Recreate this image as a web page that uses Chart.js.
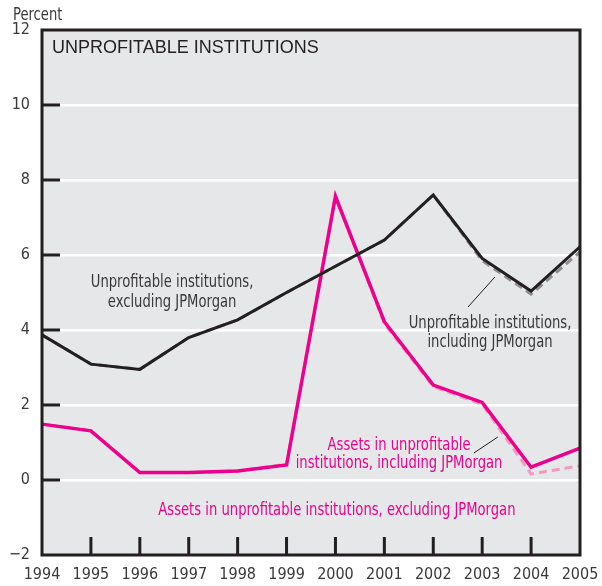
<!DOCTYPE html>
<html>
<head>
<meta charset="utf-8">
<script src="https://cdn.jsdelivr.net/npm/chart.js@4/dist/chart.umd.min.js"></script>
<style>
  html, body { margin: 0; padding: 0; background: #ffffff; }
  #wrap { width: 602px; height: 586px; }
</style>
</head>
<body>
<div id="wrap"><canvas id="chart" width="602" height="586"></canvas></div>
<script>
// Years on the horizontal axis
const years = ['1994','1995','1996','1997','1998','1999','2000','2001','2002','2003','2004','2005'];

// Percent of institutions that were unprofitable
const unprofitableExcl = [3.87, 3.09, 2.95, 3.80, 4.27, 5.00, 5.70, 6.40, 7.60, 5.91, 5.04, 6.22];
const unprofitableIncl = [3.87, 3.09, 2.95, 3.80, 4.27, 5.00, 5.70, 6.40, 7.60, 5.85, 4.96, 6.08];

// Percent of assets held by unprofitable institutions
const assetsExcl = [1.49, 1.31, 0.20, 0.20, 0.24, 0.40, 7.56, 4.22, 2.53, 2.07, 0.34, 0.85];
const assetsIncl = [1.49, 1.31, 0.20, 0.20, 0.24, 0.42, 7.60, 4.16, 2.49, 2.02, 0.16, 0.38];

// Vertical axis ticks
const yTicks = [-2, 0, 2, 4, 6, 8, 10, 12];

const NARROW = '"Liberation Sans Narrow", "DejaVu Sans Condensed", "Arial Narrow", sans-serif';
const REGULAR = '"Liberation Sans", Arial, Helvetica, sans-serif';
const INK = '#231f20';
const MAGENTA = '#ec008c';
const LABEL_GRAY = '#3a3839';
const SQUEEZE = 0.86;   // condensed look for the in-plot labels

// draw text compressed horizontally around its anchor
function narrowText(ctx, txt, x, y) {
  ctx.save();
  ctx.translate(x, y);
  ctx.scale(SQUEEZE, 1);
  ctx.fillText(txt, 0, 0);
  ctx.restore();
}

// Background, frame, inner ticks and text labels
const decor = {
  id: 'decor',
  beforeDraw(chart) {
    const { ctx, chartArea: a } = chart;
    ctx.save();
    ctx.fillStyle = '#e6e7e8';
    ctx.fillRect(a.left, a.top, a.right - a.left, a.bottom - a.top);
    ctx.restore();
  },
  afterDraw(chart) {
    const { ctx, chartArea: a, scales } = chart;
    const x = scales.x, y = scales.y;
    const X = v => x.getPixelForValue(v - 1994);
    const Y = v => y.getPixelForValue(v);
    ctx.save();

    // inner tick marks
    ctx.strokeStyle = INK;
    ctx.lineWidth = 3;
    ctx.beginPath();
    yTicks.slice(1, -1).forEach(t => {
      const py = Y(t);
      ctx.moveTo(a.left, py);
      ctx.lineTo(a.left + 18, py);
    });
    years.slice(1, -1).forEach((_, i) => {
      const px = x.getPixelForValue(i + 1);
      ctx.moveTo(px, a.bottom);
      ctx.lineTo(px, a.bottom - 18);
    });
    ctx.stroke();

    // frame
    ctx.strokeRect(a.left, a.top, a.right - a.left, a.bottom - a.top);

    // axis unit
    ctx.fillStyle = LABEL_GRAY;
    ctx.font = '17px ' + NARROW;
    ctx.textAlign = 'left';
    ctx.textBaseline = 'alphabetic';
    narrowText(ctx, 'Percent', a.left - 29, a.top - 10);

    // panel heading
    ctx.fillStyle = INK;
    ctx.font = '18px ' + REGULAR;
    ctx.fillText('UNPROFITABLE INSTITUTIONS', a.left + 10, a.top + 23);

    // series labels
    ctx.font = '17px ' + NARROW;
    ctx.textAlign = 'center';
    ctx.fillStyle = LABEL_GRAY;
    let px = X(1996.66), py = Y(5.147);
    narrowText(ctx, 'Unprofitable institutions,', px, py);
    narrowText(ctx, 'excluding JPMorgan', px, py + 20);

    px = X(2003.16); py = Y(4.053);
    narrowText(ctx, 'Unprofitable institutions,', px, py);
    narrowText(ctx, 'including JPMorgan', px, py + 19);

    ctx.fillStyle = MAGENTA;
    px = X(2001.30); py = Y(0.80);
    narrowText(ctx, 'Assets in unprofitable', px, py);
    narrowText(ctx, 'institutions, including JPMorgan', px, py + 18);

    px = X(2000.03); py = Y(-0.933);
    narrowText(ctx, 'Assets in unprofitable institutions, excluding JPMorgan', px, py);

    // leader lines
    ctx.strokeStyle = INK;
    ctx.lineWidth = 1;
    ctx.beginPath();
    ctx.moveTo(X(2002.71), Y(4.613));
    ctx.lineTo(X(2003.26), Y(5.413));
    ctx.moveTo(X(2002.83), Y(0.72));
    ctx.lineTo(X(2003.32), Y(1.147));
    ctx.stroke();

    ctx.restore();
  }
};

new Chart(document.getElementById('chart'), {
  type: 'line',
  data: {
    labels: years,
    datasets: [
      { label: 'Unprofitable institutions, excluding JPMorgan', data: unprofitableExcl,
        borderColor: INK, borderWidth: 3, order: 1 },
      { label: 'Assets in unprofitable institutions, excluding JPMorgan', data: assetsExcl,
        borderColor: MAGENTA, borderWidth: 3.5, order: 1 },
      { label: 'Unprofitable institutions, including JPMorgan', data: unprofitableIncl,
        borderColor: '#8e8e8e', borderWidth: 3, borderDash: [8, 5], order: 2 },
      { label: 'Assets in unprofitable institutions, including JPMorgan', data: assetsIncl,
        borderColor: '#f49ac1', borderWidth: 3, borderDash: [8, 5], order: 2 }
    ]
  },
  options: {
    responsive: false,
    animation: false,
    devicePixelRatio: 1,
    layout: { padding: { top: 30, right: 22, left: 0, bottom: 0 } },
    elements: {
      point: { radius: 0, hoverRadius: 0 },
      line: { tension: 0, fill: false, borderJoinStyle: 'miter', borderCapStyle: 'butt' }
    },
    plugins: { legend: { display: false }, tooltip: { enabled: false }, title: { display: false } },
    scales: {
      x: {
        type: 'category',
        offset: false,
        grid: { display: false, drawTicks: false },
        border: { display: false },
        ticks: { color: LABEL_GRAY, font: { family: NARROW, size: 16 }, padding: 10,
                  maxRotation: 0, autoSkip: false },
        afterFit: s => { s.height = 31; s.paddingLeft = 0; s.paddingRight = 0; }
      },
      y: {
        min: -2, max: 12,
        afterBuildTicks: s => { s.ticks = yTicks.map(v => ({ value: v })); },
        grid: {
          drawTicks: false,
          lineWidth: 2.5,
          color: c => (c.tick && (c.tick.value === -2 || c.tick.value === 12)) ? 'rgba(0,0,0,0)' : '#ffffff'
        },
        border: { display: false },
        ticks: {
          color: LABEL_GRAY, font: { family: NARROW, size: 16 }, padding: 12,
          callback: v => v < 0 ? '\u2212' + Math.abs(v) : String(v)
        },
        afterFit: s => { s.width = 42; s.paddingTop = 0; s.paddingBottom = 0; }
      }
    }
  },
  plugins: [decor]
});
</script>
</body>
</html>
